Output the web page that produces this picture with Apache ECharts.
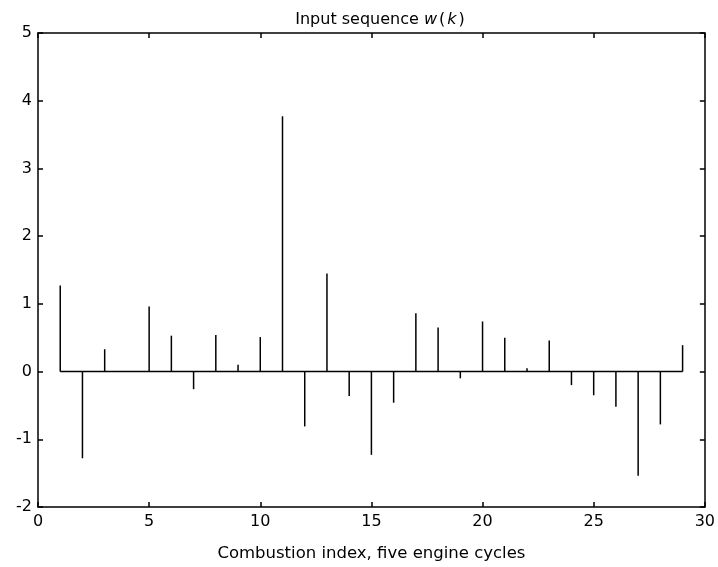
<!DOCTYPE html>
<html>
<head>
<meta charset="utf-8">
<script src="https://cdn.jsdelivr.net/npm/echarts@6/dist/echarts.min.js"></script>
<style>html,body{margin:0;padding:0;background:#fff;}#c{width:718px;height:567px;}</style>
</head>
<body>
<div id="c"></div>
<script>
var kIndex = [1,2,3,4,5,6,7,8,9,10,11,12,13,14,15,16,17,18,19,20,21,22,23,24,25,26,27,28,29];
var wValues = [1.27,-1.28,0.33,0.01,0.96,0.53,-0.26,0.54,0.10,0.51,3.77,-0.81,1.45,-0.36,-1.23,-0.46,0.86,0.65,-0.10,0.74,0.50,0.05,0.46,-0.20,-0.35,-0.52,-1.54,-0.78,0.39];
var xTicks = [0,5,10,15,20,25,30];
var yTicks = [-2,-1,0,1,2,3,4,5];

var stemData = kIndex.map(function(k,i){ return [k, wValues[i]]; });
var baseData = [[kIndex[0],0],[kIndex[kIndex.length-1],0]];

var font = 'DejaVu Sans';
var axisLine = {show:true, onZero:false, lineStyle:{color:'#000', width:1.5}};
var axisTick = {show:true, inside:true, length:5, lineStyle:{color:'#000', width:1.5}};

var chart = echarts.init(document.getElementById('c'), null, {renderer:'canvas'});
chart.setOption({
  animation:false,
  backgroundColor:'#fff',
  title:{
    text:'Input sequence {i|w}{p|(}{i|k}{p|)}',
    left:376, textAlign:'center', top:7,
    textStyle:{
      fontFamily:font, fontSize:16, fontWeight:'normal', color:'#000',
      rich:{
        i:{fontFamily:font, fontSize:16, fontStyle:'italic', color:'#000'},
        p:{fontFamily:font, fontSize:16, color:'#000', padding:[0,2,0,2]}
      }
    }
  },
  grid:{left:38, right:12, top:33, bottom:60, containLabel:false},
  xAxis:[{
    type:'value', min:0, max:30, interval:5, position:'bottom',
    axisLine:axisLine, axisTick:axisTick, splitLine:{show:false},
    axisLabel:{fontFamily:font, fontSize:16, color:'#000', margin:7},
    name:'Combustion index, five engine cycles', nameLocation:'middle', nameGap:38,
    nameTextStyle:{fontFamily:font, fontSize:16.5, color:'#000'}
  },{
    type:'value', min:0, max:30, interval:5, position:'top',
    axisLine:axisLine, axisTick:axisTick, splitLine:{show:false},
    axisLabel:{show:false}
  }],
  yAxis:[{
    type:'value', min:-2, max:5, interval:1, position:'left',
    axisLine:axisLine, axisTick:axisTick, splitLine:{show:false},
    axisLabel:{fontFamily:font, fontSize:16, color:'#000', margin:6}
  },{
    type:'value', min:-2, max:5, interval:1, position:'right',
    axisLine:axisLine, axisTick:axisTick, splitLine:{show:false},
    axisLabel:{show:false}
  }],
  series:[{
    type:'line', data:baseData, xAxisIndex:0, yAxisIndex:0,
    symbol:'none', lineStyle:{color:'#000', width:1.5}, silent:true
  },{
    type:'custom', xAxisIndex:0, yAxisIndex:0, data:stemData,
    renderItem:function(params, api){
      var p0 = api.coord([api.value(0), 0]);
      var p1 = api.coord([api.value(0), api.value(1)]);
      return {type:'line', shape:{x1:p0[0], y1:p0[1], x2:p1[0], y2:p1[1]},
        style:{stroke:'#000', lineWidth:1.5}};
    }
  }]
});
</script>
</body>
</html>
